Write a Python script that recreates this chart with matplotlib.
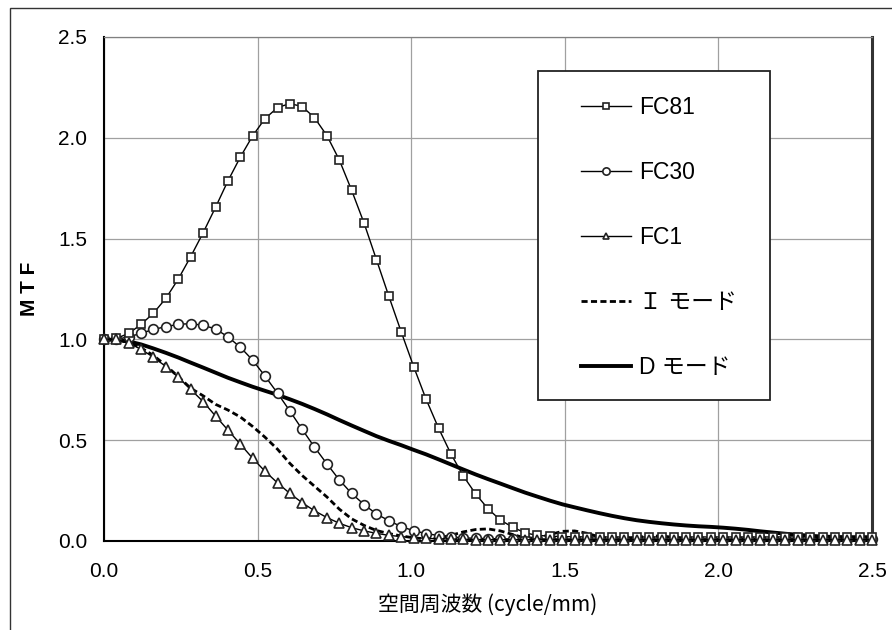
import matplotlib
matplotlib.use("Agg")
import matplotlib.pyplot as plt
from matplotlib.patches import Rectangle

plt.rcParams['font.family'] = ['Liberation Sans', 'Noto Sans CJK JP', 'DejaVu Sans']

# spatial frequency (cycle/mm), 63 samples 0 .. 2.5
freq = [0.000, 0.040, 0.081, 0.121, 0.161, 0.202, 0.242, 0.282, 0.323, 0.363,
        0.403, 0.444, 0.484, 0.524, 0.565, 0.605, 0.645, 0.685, 0.726, 0.766,
        0.806, 0.847, 0.887, 0.927, 0.968, 1.008, 1.048, 1.089, 1.129, 1.169,
        1.210, 1.250, 1.290, 1.331, 1.371, 1.411, 1.452, 1.492, 1.532, 1.573,
        1.613, 1.653, 1.694, 1.734, 1.774, 1.815, 1.855, 1.895, 1.935, 1.976,
        2.016, 2.056, 2.097, 2.137, 2.177, 2.218, 2.258, 2.298, 2.339, 2.379,
        2.419, 2.460, 2.500]

fc81 = [1.000, 1.005, 1.030, 1.075, 1.130, 1.205, 1.300, 1.410, 1.530, 1.655,
        1.785, 1.905, 2.010, 2.095, 2.150, 2.170, 2.155, 2.100, 2.010, 1.890,
        1.740, 1.575, 1.395, 1.215, 1.035, 0.865, 0.705, 0.560, 0.433, 0.324,
        0.233, 0.160, 0.104, 0.068, 0.040, 0.028, 0.024, 0.022, 0.021, 0.020,
        0.020, 0.020, 0.020, 0.020, 0.020, 0.020, 0.020, 0.020, 0.020, 0.020,
        0.020, 0.020, 0.020, 0.020, 0.020, 0.020, 0.020, 0.020, 0.020, 0.020,
        0.020, 0.020, 0.020]

fc30 = [1.000, 1.000, 1.013, 1.030, 1.050, 1.063, 1.075, 1.078, 1.070, 1.052,
        1.013, 0.961, 0.897, 0.818, 0.733, 0.645, 0.554, 0.466, 0.382, 0.303,
        0.236, 0.180, 0.134, 0.101, 0.071, 0.051, 0.037, 0.027, 0.020, 0.016,
        0.013, 0.012, 0.011, 0.010, 0.010, 0.010, 0.010, 0.010, 0.010, 0.010,
        0.010, 0.010, 0.010, 0.010, 0.010, 0.010, 0.010, 0.010, 0.010, 0.010,
        0.010, 0.010, 0.010, 0.010, 0.010, 0.010, 0.010, 0.010, 0.010, 0.010,
        0.010, 0.010, 0.010]

fc1 = [1.000, 1.000, 0.981, 0.951, 0.911, 0.865, 0.812, 0.752, 0.691, 0.620,
       0.551, 0.480, 0.410, 0.346, 0.288, 0.236, 0.190, 0.150, 0.116, 0.088,
       0.066, 0.050, 0.038, 0.028, 0.022, 0.017, 0.013, 0.011, 0.010, 0.008,
       0.007, 0.007, 0.007, 0.007, 0.007, 0.007, 0.007, 0.007, 0.007, 0.007,
       0.007, 0.007, 0.007, 0.007, 0.007, 0.007, 0.007, 0.007, 0.007, 0.007,
       0.007, 0.007, 0.007, 0.007, 0.007, 0.007, 0.007, 0.007, 0.007, 0.007,
       0.007, 0.007, 0.007]

i_mode = [1.000, 0.998, 0.985, 0.958, 0.920, 0.870, 0.815, 0.758, 0.720, 0.678,
          0.650, 0.615, 0.568, 0.515, 0.455, 0.385, 0.325, 0.272, 0.218, 0.158,
          0.110, 0.077, 0.052, 0.037, 0.025, 0.016, 0.010, 0.014, 0.028, 0.045,
          0.057, 0.060, 0.050, 0.032, 0.015, 0.014, 0.032, 0.048, 0.050, 0.038,
          0.020, 0.008, 0.010, 0.018, 0.024, 0.025, 0.018, 0.010, 0.006, 0.006,
          0.008, 0.010, 0.010, 0.008, 0.006, 0.006, 0.007, 0.008, 0.008, 0.007,
          0.006, 0.006, 0.006]

d_mode = [1.000, 0.997, 0.990, 0.975, 0.955, 0.933, 0.910, 0.885, 0.860, 0.835,
          0.810, 0.787, 0.765, 0.745, 0.725, 0.703, 0.680, 0.655, 0.628, 0.600,
          0.573, 0.546, 0.520, 0.497, 0.475, 0.452, 0.430, 0.405, 0.380, 0.355,
          0.330, 0.307, 0.285, 0.262, 0.240, 0.220, 0.200, 0.182, 0.167, 0.152,
          0.138, 0.125, 0.113, 0.103, 0.095, 0.088, 0.082, 0.077, 0.073, 0.070,
          0.066, 0.061, 0.055, 0.048, 0.042, 0.036, 0.031, 0.026, 0.022, 0.020,
          0.019, 0.019, 0.019]

labels = ['FC81', 'FC30', 'FC1', 'Ｉ モード', 'D モード']
xticks = [0.0, 0.5, 1.0, 1.5, 2.0, 2.5]
yticks = [0.0, 0.5, 1.0, 1.5, 2.0, 2.5]

fig = plt.figure(figsize=(8.92, 6.3), dpi=100)
ax = fig.add_axes([104 / 892, 1 - 541 / 630, 768 / 892, 504 / 630])

# outer chart frame (partly outside the image)
fig.patches.append(Rectangle((10 / 892, -0.5), 2, 1.5 - 8 / 630, transform=fig.transFigure,
                             fill=False, edgecolor='#333333', lw=1.0))

mk = dict(color='black', lw=1.0, mfc='white', mec='#222222', mew=1.2, clip_on=False)
ax.plot(freq, fc81, marker='s', ms=6, label=labels[0], zorder=5, **mk)
ax.plot(freq, fc30, marker='o', ms=7, label=labels[1], zorder=4, **mk)
ax.plot(freq, fc1, marker='^', ms=6.5, label=labels[2], zorder=6, **mk)
ax.plot(freq, i_mode, color='black', lw=2.0, ls=(0, (2.2, 1.2)), label=labels[3], zorder=3)
ax.plot(freq, d_mode, color='black', lw=2.8, label=labels[4], zorder=3)

ax.set_xlim(0, 2.5)
ax.set_ylim(0, 2.5)
ax.set_xticks(xticks)
ax.set_yticks(yticks)
ax.set_xticklabels(['%.1f' % v for v in xticks])
ax.set_yticklabels(['%.1f' % v for v in yticks])
ax.tick_params(length=0, labelsize=15)
ax.tick_params(axis='x', pad=15)
ax.tick_params(axis='y', pad=12)
ax.grid(True, color='#a0a0a0', lw=0.9)
ax.set_axisbelow(True)

ax.spines['left'].set_color('black')
ax.spines['left'].set_linewidth(1.5)
ax.spines['bottom'].set_color('black')
ax.spines['bottom'].set_linewidth(1.5)
ax.spines['right'].set_color('#333333')
ax.spines['right'].set_linewidth(2.2)
ax.spines['top'].set_color('#808080')
ax.spines['top'].set_linewidth(0.9)

ax.set_ylabel('M T F', fontsize=15, labelpad=14, fontweight='bold')
ax.set_xlabel('空間周波数 (cycle/mm)', fontsize=15, labelpad=9,
              family=['Noto Sans CJK JP', 'DejaVu Sans'])

# legend box drawn by hand, entries placed inside without frame
fig.patches.append(Rectangle((538 / 892, 1 - 400 / 630), 232 / 892, 329 / 630,
                             transform=fig.transFigure, fill=True, facecolor='white',
                             edgecolor='#222222', lw=1.3, zorder=10))
leg = fig.legend(loc='upper left', bbox_to_anchor=(570 / 892, 1 - 85 / 630),
                 frameon=False, handlelength=2.15, handletextpad=0.35,
                 labelspacing=1.83, borderpad=0, markerscale=0.75,
                 prop={'family': ['Liberation Sans', 'Noto Sans CJK JP', 'DejaVu Sans'], 'size': 16.5})
leg.set_zorder(11)

fig.savefig('out.png', dpi=100)
